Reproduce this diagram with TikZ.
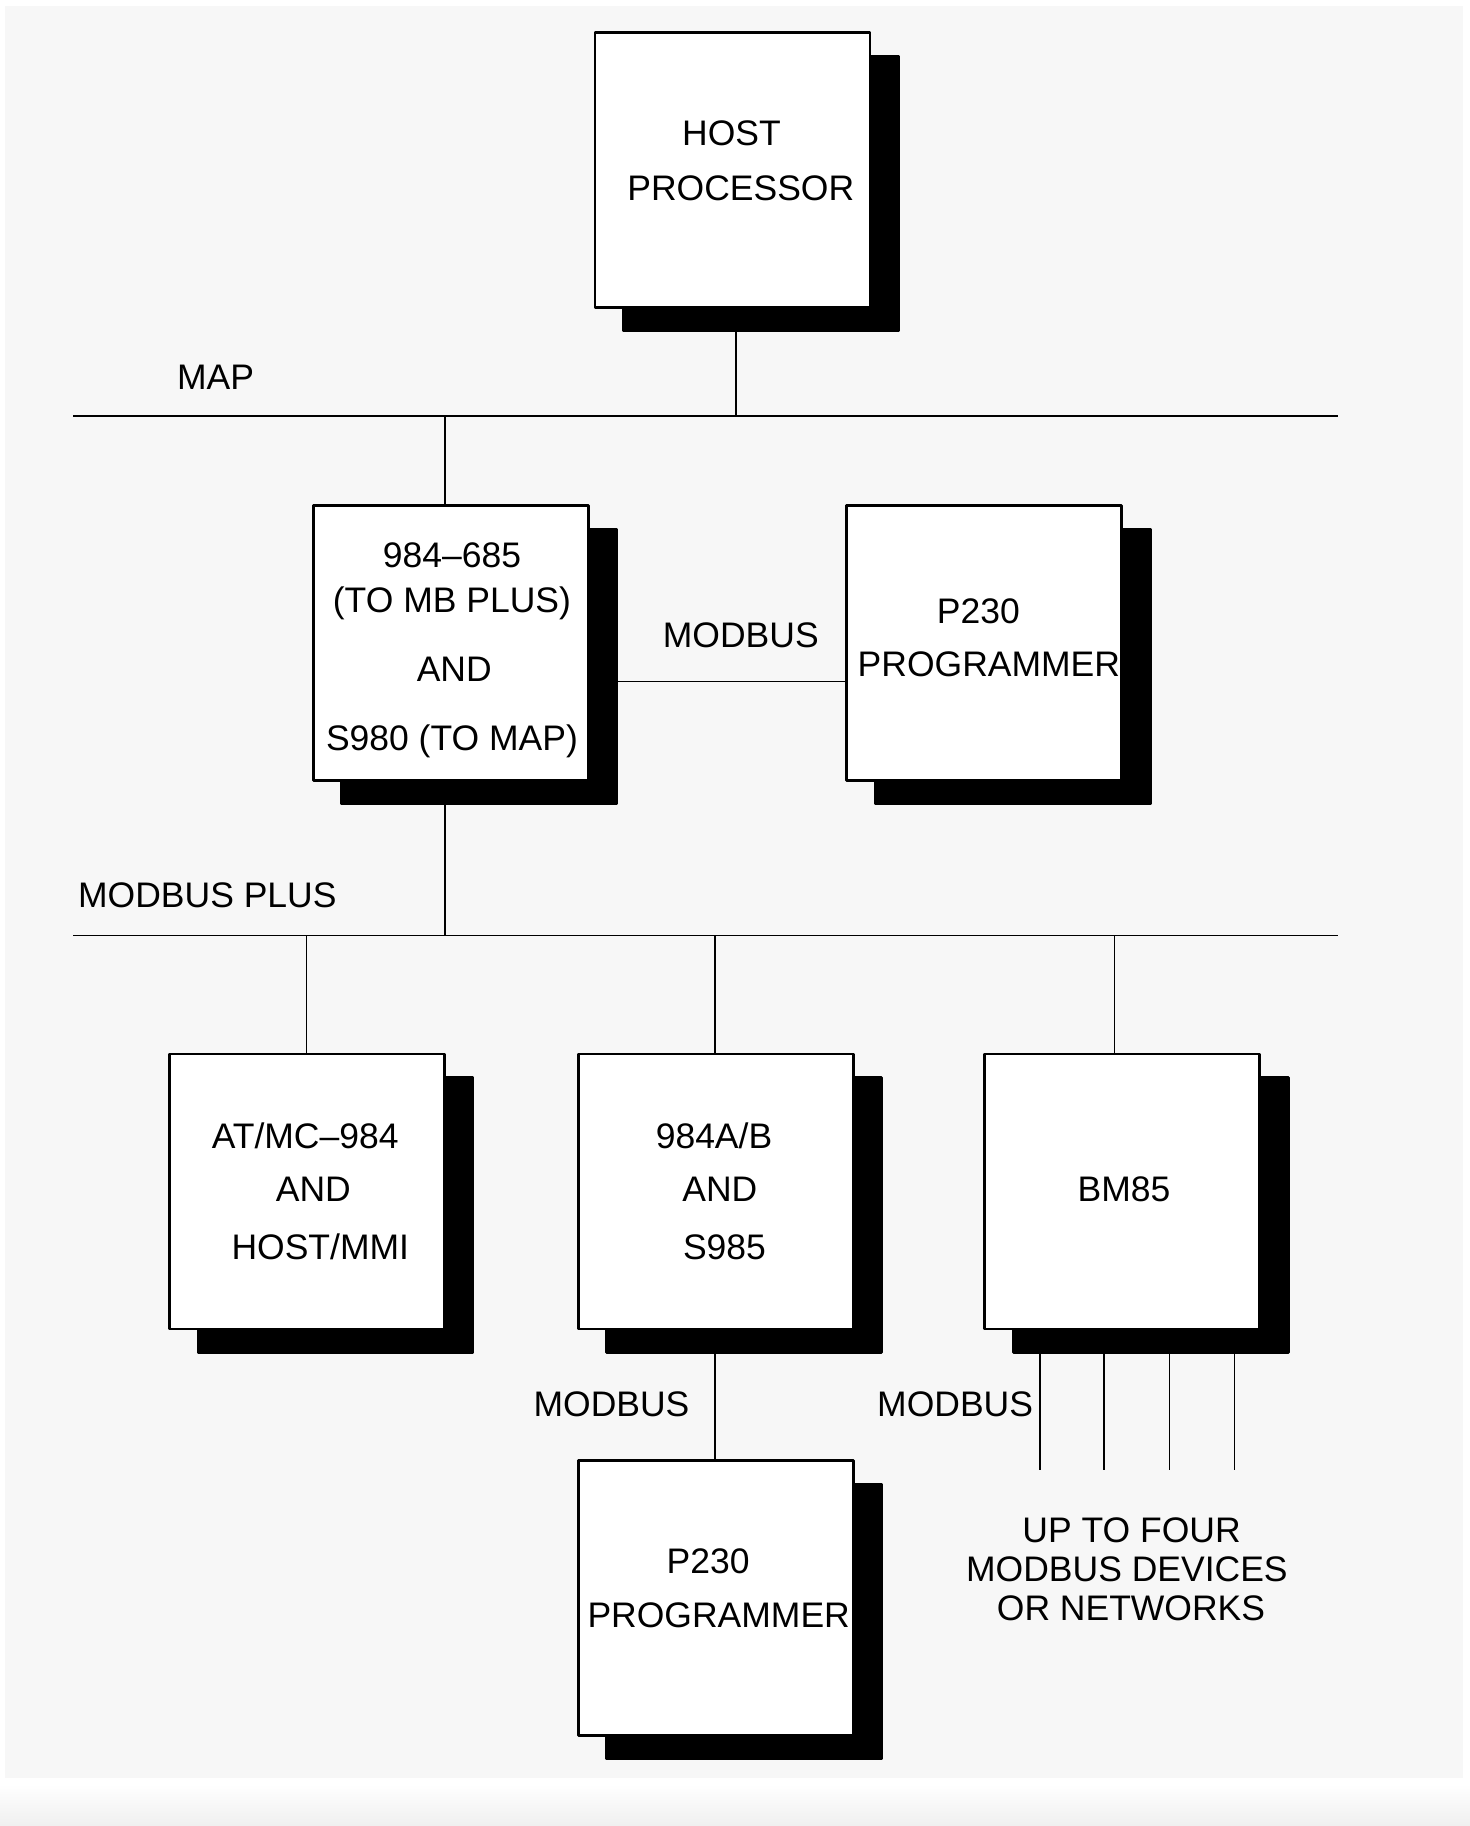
\documentclass[tikz,border=0pt]{standalone}
\usepackage{fontspec}
\setmainfont{Liberation Sans}
\usetikzlibrary{shadows,calc}
\definecolor{bggray}{HTML}{F7F7F7}
\begin{document}
\begin{tikzpicture}[x=1.1648pt,y=-1.1648pt,
  box/.style={draw=black, fill=white, line width=2.7pt, line join=round,
    minimum size=275pt, inner sep=0pt,
    general shadow={fill=black, draw=black, line width=2.7pt, line join=round,
      shadow xshift=28.5pt, shadow yshift=-23.5pt}},
  wire/.style={line width=1.6pt},
  lbl/.style={font=\fontsize{35.5}{40}\selectfont, inner sep=0pt,
    text height=25.4pt, text depth=0pt, anchor=center}]
\useasboundingbox (0,0) rectangle (1262,1567.7);
\fill[bggray] (4.3,5.2) rectangle (1256,1526.5);
\shade[top color=white, bottom color=black!6] (0,1532) rectangle (1262,1567.7);

% boxes
\node[box] (host) at (629,146) {};
\node[box] (cpu) at (387,552) {};
\node[box] (p230a) at (845,552) {};
\node[box] (atmc) at (263.5,1023) {};
\node[box] (ab) at (614.5,1023) {};
\node[box] (bm85) at (963.5,1023) {};
\node[box] (p230b) at (614.5,1372) {};

% bus coordinates
\coordinate (mapL) at (63,357);
\coordinate (mapR) at (1149,357);
\coordinate (mbpL) at (63,803);
\coordinate (mbpR) at (1149,803);
\coordinate (hd) at (632,357);
\coordinate (cu) at (382,357);
\coordinate (cd) at (382,803);
\coordinate (mh) at (531,585);
\coordinate (d1) at (263,803);
\coordinate (d2) at (614,803);
\coordinate (d3) at (957,803);
\coordinate (m1) at (893,1262);
\coordinate (m2) at (948,1262);
\coordinate (m3) at (1004,1262);
\coordinate (m4) at (1060,1262);

% connectors
\draw[wire] (mapL) -- (mapR);
\draw[wire] (mbpL) -- (mbpR);
\draw[wire] (hd |- host.south) -- (hd);
\draw[wire] (cu) -- (cu |- cpu.north);
\draw[wire] (cd |- cpu.south) -- (cd);
\draw[wire] (mh -| cpu.east) -- (mh -| p230a.west);
\draw[wire] (d1) -- (d1 |- atmc.north);
\draw[wire] (d2) -- (d2 |- ab.north);
\draw[wire] (d3) -- (d3 |- bm85.north);
\draw[wire] (d2 |- ab.south) -- (d2 |- p230b.north);
\draw[wire] (m1 |- bm85.south) -- (m1);
\draw[wire] (m2 |- bm85.south) -- (m2);
\draw[wire] (m3 |- bm85.south) -- (m3);
\draw[wire] (m4 |- bm85.south) -- (m4);

% texts
\node[lbl] (t1) at (628,114) {HOST};
\node[lbl] (t2) at (636,161) {PROCESSOR};
\node[lbl] (t3) at (185,323.5) {MAP};
\node[lbl] (t4) at (388,476) {984–685};
\node[lbl] (t5) at (388,515) {(TO MB PLUS)};
\node[lbl] (t6) at (390,574) {AND};
\node[lbl] (t7) at (388,633) {S980 (TO MAP)};
\node[lbl] (t8) at (636,545) {MODBUS};
\node[lbl] (t9) at (840,524) {P230};
\node[lbl] (t10) at (849,570) {PROGRAMMER};
\node[lbl] (t11) at (178,768) {MODBUS PLUS};
\node[lbl] (t12) at (262,975) {AT/MC–984};
\node[lbl] (t13) at (269,1021) {AND};
\node[lbl] (t14) at (275,1070) {HOST/MMI};
\node[lbl] (t15) at (613,975) {984A/B};
\node[lbl] (t16) at (618,1021) {AND};
\node[lbl] (t17) at (622,1070) {S985};
\node[lbl] (t18) at (965,1021) {BM85};
\node[lbl] (t19) at (525,1205) {MODBUS};
\node[lbl] (t20) at (820,1205) {MODBUS};
\node[lbl] (t21) at (608,1340) {P230};
\node[lbl] (t22) at (617,1386) {PROGRAMMER};
\node[lbl] (t23) at (971.5,1313) {UP TO FOUR};
\node[lbl] (t24) at (967.5,1347) {MODBUS DEVICES};
\node[lbl] (t25) at (971,1380) {OR NETWORKS};
\end{tikzpicture}
\end{document}
